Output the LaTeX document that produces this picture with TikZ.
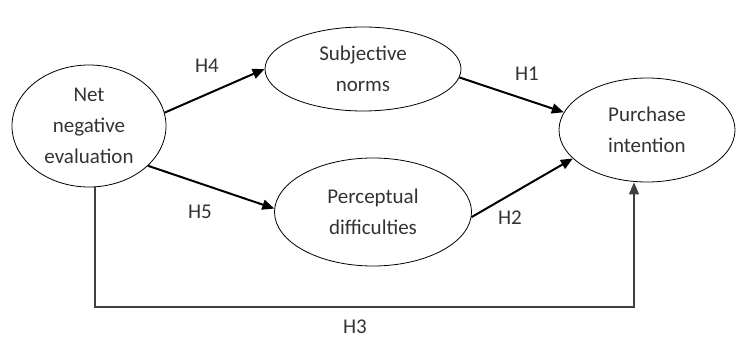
\documentclass[tikz,border=0pt]{standalone}
\usepackage{fontspec}
\setmainfont{Carlito}
\usepackage{tikz}
\usetikzlibrary{shapes.geometric, arrows.meta}

\begin{document}
\begin{tikzpicture}[x=1pt, y=-1pt,
    construct/.style={ellipse, draw, line width=.8pt, inner sep=0pt, align=center,
        text=black!80, font=\fontsize{21}{31}\selectfont},
    hyp/.style={text=black!80, font=\fontsize{21}{24}\selectfont},
    link/.style={-{Triangle[length=12pt, width=10pt]}, line width=2pt}]
    \useasboundingbox (0,0) rectangle (738,339);
    % Constructs
    \node[construct, minimum width=154pt, minimum height=122pt] (Eval) at (89,126) {Net\\negative\\evaluation};
    \node[construct, minimum width=196pt, minimum height=84pt] (Norms) at (363,69) {Subjective\\norms};
    \node[construct, minimum width=197pt, minimum height=108pt] (Diff) at (373,212) {Perceptual\\difficulties};
    \node[construct, minimum width=176pt, minimum height=104pt] (Intent) at (647,130) {Purchase\\intention};
    % Hypotheses
    \foreach \from/\to/\name/\x/\y in {Eval.10/Norms.west/H4/207/66, Eval.-34/Diff.178/H5/200/212,
        Norms.-5/Intent.168/H1/527/74, Diff.-3/Intent.201/H2/510/218} {
        \draw[link] (\from) -- (\to);
        \node[hyp] (\name) at (\x,\y) {\name};
    }
    % Direct path
    \coordinate (H3-left) at (95,307);
    \coordinate (H3-right) at (634,307);
    \draw[link, line width=1.5pt, draw=black!75] (Eval.south -| H3-left) -- (H3-left) -- (H3-right) -- (Intent.south -| H3-right);
    \node[hyp] (H3) at (355,327) {H3};
\end{tikzpicture}
\end{document}
